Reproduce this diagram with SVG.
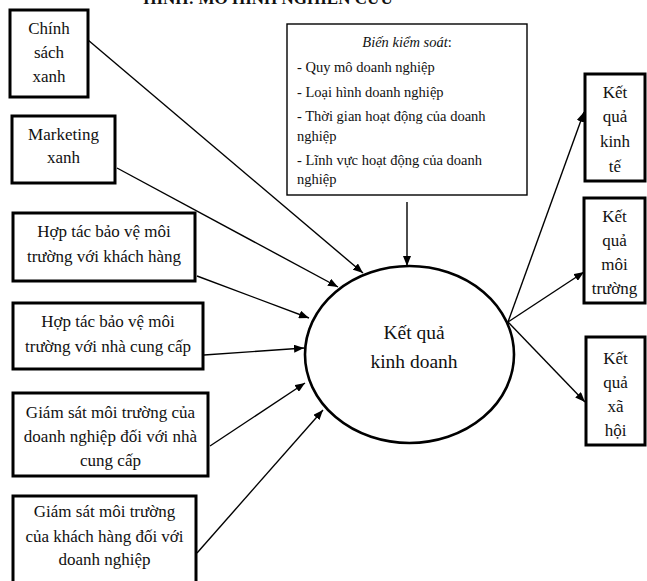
<svg xmlns="http://www.w3.org/2000/svg" width="647" height="581" viewBox="0 0 647 581">
  <style>
    .box { fill: #fff; stroke: #000; stroke-width: 3; }
    .ctrl { fill: #fff; stroke: #000; stroke-width: 1.4; }
    .oval { fill: #fff; stroke: #000; stroke-width: 2.6; }
    .t { font-family: "Liberation Serif", "Times New Roman", serif; font-size: 17px; fill: #111; text-anchor: middle; }
    .c { font-family: "Liberation Serif", "Times New Roman", serif; font-size: 14.5px; fill: #111; }
    .big { font-family: "Liberation Serif", "Times New Roman", serif; font-size: 19.5px; fill: #111; text-anchor: middle; }
    .title { font-family: "Liberation Serif", "Times New Roman", serif; font-size: 17px; font-weight: bold; fill: #111; text-anchor: middle; }
    .link { stroke: #000; stroke-width: 1.4; fill: none; marker-end: url(#head); }
  </style>
  <defs>
    <marker id="head" viewBox="0 0 10 8" refX="10" refY="4" markerWidth="10" markerHeight="8" markerUnits="userSpaceOnUse" orient="auto">
      <path d="M0,0 L10,4 L0,8 Z" fill="#000"/>
    </marker>
  </defs>
  <rect width="647" height="581" fill="#fff"/>

  <text class="title" x="268" y="4">HÌNH: MÔ HÌNH NGHIÊN CỨU</text>

  <g id="connectors">
    <line class="link" x1="88" y1="40" x2="363" y2="273"/>
    <line class="link" x1="117" y1="168" x2="338" y2="287"/>
    <line class="link" x1="197" y1="276" x2="309" y2="318"/>
    <line class="link" x1="204" y1="355" x2="304" y2="348"/>
    <line class="link" x1="210" y1="446" x2="305" y2="383"/>
    <line class="link" x1="197" y1="553" x2="323" y2="410"/>
    <line class="link" x1="407" y1="202" x2="407" y2="266"/>
    <line class="link" x1="508" y1="322" x2="584" y2="112"/>
    <line class="link" x1="508" y1="322" x2="584" y2="272"/>
    <line class="link" x1="508" y1="322" x2="585" y2="402"/>
  </g>

  <g id="chinh-sach-xanh">
    <rect class="box" x="10" y="10" width="78" height="87"/>
    <text class="t" x="49" y="34">Chính</text>
    <text class="t" x="49" y="58">sách</text>
    <text class="t" x="49" y="82">xanh</text>
  </g>
  <g id="marketing-xanh">
    <rect class="box" x="12" y="116" width="103" height="67"/>
    <text class="t" x="63.5" y="140">Marketing</text>
    <text class="t" x="63.5" y="163">xanh</text>
  </g>
  <g id="hop-tac-khach-hang">
    <rect class="box" x="13" y="213" width="182" height="68"/>
    <text class="t" x="104" y="237">Hợp tác bảo vệ môi</text>
    <text class="t" x="104" y="262">trường với khách hàng</text>
  </g>
  <g id="hop-tac-nha-cung-cap">
    <rect class="box" x="13" y="303" width="190" height="66"/>
    <text class="t" x="108" y="327">Hợp tác bảo vệ môi</text>
    <text class="t" x="108" y="352">trường với nhà cung cấp</text>
  </g>
  <g id="giam-sat-nha-cung-cap">
    <rect class="box" x="13" y="393" width="195" height="83"/>
    <text class="t" x="110.5" y="418">Giám sát môi trường của</text>
    <text class="t" x="110.5" y="442">doanh nghiệp đối với nhà</text>
    <text class="t" x="110.5" y="466">cung cấp</text>
  </g>
  <g id="giam-sat-khach-hang">
    <rect class="box" x="13" y="496" width="183" height="90"/>
    <text class="t" x="104.5" y="517">Giám sát môi trường</text>
    <text class="t" x="104.5" y="542">của khách hàng đối với</text>
    <text class="t" x="104.5" y="565">doanh nghiệp</text>
  </g>

  <g id="bien-kiem-soat">
    <rect class="ctrl" x="287" y="24" width="240" height="171"/>
    <text class="c" x="407" y="47" text-anchor="middle" font-style="italic">Biến kiểm soát<tspan font-style="normal">:</tspan></text>
    <text class="c" x="297" y="72">- Quy mô doanh nghiệp</text>
    <text class="c" x="297" y="97">- Loại hình doanh nghiệp</text>
    <text class="c" x="297" y="121">- Thời gian hoạt động của doanh</text>
    <text class="c" x="297" y="141">nghiệp</text>
    <text class="c" x="297" y="165">- Lĩnh vực hoạt động của doanh</text>
    <text class="c" x="297" y="184">nghiệp</text>
  </g>

  <g id="ket-qua-kinh-doanh">
    <ellipse class="oval" cx="409.5" cy="354.5" rx="104.5" ry="88.5"/>
    <text class="big" x="414" y="339">Kết quả</text>
    <text class="big" x="414" y="368">kinh doanh</text>
  </g>

  <g id="ket-qua-kinh-te">
    <rect class="box" x="585" y="74" width="60" height="107"/>
    <text class="t" x="615" y="98">Kết</text>
    <text class="t" x="615" y="122">quả</text>
    <text class="t" x="615" y="147">kinh</text>
    <text class="t" x="615" y="172">tế</text>
  </g>
  <g id="ket-qua-moi-truong">
    <rect class="box" x="584" y="198" width="61" height="105"/>
    <text class="t" x="614.5" y="222">Kết</text>
    <text class="t" x="614.5" y="246">quả</text>
    <text class="t" x="614.5" y="270">môi</text>
    <text class="t" x="614.5" y="294">trường</text>
  </g>
  <g id="ket-qua-xa-hoi">
    <rect class="box" x="586" y="337" width="59" height="108"/>
    <text class="t" x="615.5" y="364">Kết</text>
    <text class="t" x="615.5" y="388">quả</text>
    <text class="t" x="615.5" y="412">xã</text>
    <text class="t" x="615.5" y="436">hội</text>
  </g>
</svg>
